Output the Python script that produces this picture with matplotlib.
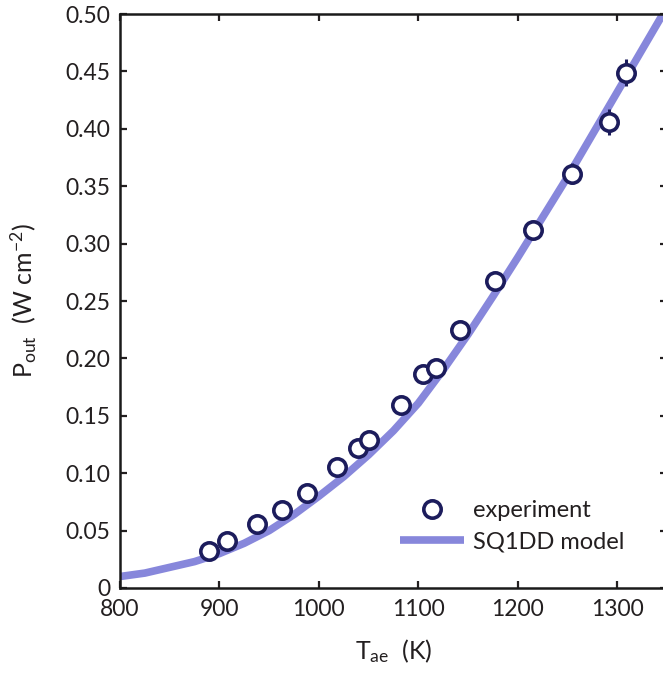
import numpy as np
import matplotlib
matplotlib.use("Agg")
import matplotlib.pyplot as plt

plt.rcParams['font.family'] = ['Lato', 'DejaVu Sans']
plt.rcParams['mathtext.fontset'] = 'custom'
plt.rcParams['mathtext.rm'] = 'Lato'
plt.rcParams['mathtext.it'] = 'Lato:italic'

# Experimental data
T_exp = [889, 908, 938, 963, 988, 1018, 1039, 1050, 1083, 1105, 1118, 1142, 1177, 1215, 1254, 1292, 1309]
P_exp = [0.032, 0.041, 0.056, 0.068, 0.083, 0.105, 0.122, 0.129, 0.159, 0.186, 0.192, 0.225, 0.267, 0.312, 0.361, 0.406, 0.449]
P_err = [0.003, 0.004, 0.004, 0.004, 0.004, 0.005, 0.005, 0.005, 0.005, 0.006, 0.006, 0.006, 0.007, 0.008, 0.009, 0.011, 0.012]

# SQ1DD model curve
T_model = [800, 825, 850, 875, 900, 925, 950, 975, 1000, 1025, 1050, 1075, 1100,
           1125, 1150, 1175, 1200, 1225, 1250, 1275, 1300, 1325, 1350]
P_model = [0.010, 0.013, 0.018, 0.023, 0.030, 0.039, 0.050, 0.064, 0.080, 0.097, 0.116, 0.137, 0.161,
           0.190, 0.221, 0.254, 0.288, 0.323, 0.358, 0.395, 0.432, 0.469, 0.506]

x_ticks = [800, 900, 1000, 1100, 1200, 1300]
y_ticks = [0, 0.05, 0.10, 0.15, 0.20, 0.25, 0.30, 0.35, 0.40, 0.45, 0.50]
y_labels = ['0', '0.05', '0.10', '0.15', '0.20', '0.25', '0.30', '0.35', '0.40', '0.45', '0.50']

txt_color = '#231f20'
line_color = '#7a7ad8'
mk_color = '#1c1c5c'

fig = plt.figure(figsize=(6.63, 6.74), dpi=100)
ax = fig.add_axes([0.181, 0.1276, 0.825, 0.8516])

model_line, = ax.plot(T_model, P_model, color=line_color, lw=5.5, solid_capstyle='butt',
                      zorder=2, alpha=0.9)
eb = ax.errorbar(T_exp, P_exp, yerr=P_err, fmt='o', ms=12.5, mfc='white', mec=mk_color,
                 mew=2.6, ecolor=mk_color, elinewidth=2.2, capsize=0, zorder=3)

ax.set_xlim(800, 1350)
ax.set_ylim(0, 0.5)
ax.set_xticks(x_ticks)
ax.set_xticklabels([str(t) for t in x_ticks])
ax.set_yticks(y_ticks)
ax.set_yticklabels(y_labels)

for s in ax.spines.values():
    s.set_linewidth(1.8)
    s.set_color('#1a1a1a')
ax.tick_params(direction='in', length=5, width=1.6, top=True, right=True,
               labelsize=16.5, colors=txt_color)
ax.tick_params(axis='x', pad=8)
ax.tick_params(axis='y', pad=7)

ax.set_xlabel(r'T$_{\mathrm{ae}}$  (K)', fontsize=18, labelpad=12, color=txt_color)
ax.set_ylabel(r'P$_{\mathrm{out}}$  (W cm$^{-2}$)', fontsize=18, labelpad=19, color=txt_color)

leg = ax.legend([eb[0], model_line], ['experiment', 'SQ1DD model'],
                loc='lower left', bbox_to_anchor=(0.512, 0.062), frameon=False,
                borderpad=0, borderaxespad=0,
                fontsize=17, handlelength=2.7, handletextpad=0.38, labelspacing=0.42)
for t in leg.get_texts():
    t.set_color(txt_color)

fig.savefig('out.png', dpi=100)
